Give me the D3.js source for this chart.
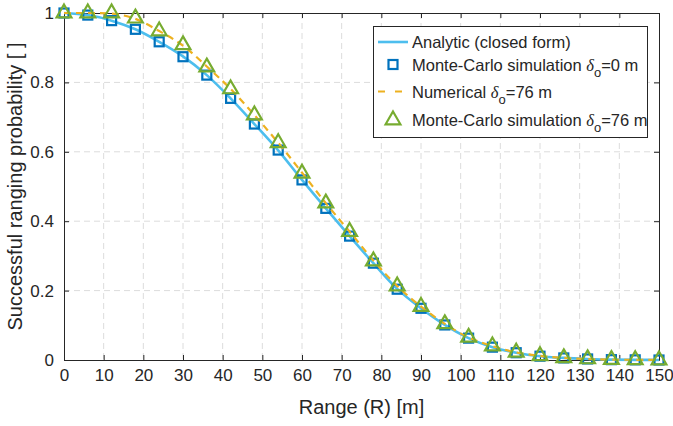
<!DOCTYPE html>
<html>
<head>
<meta charset="utf-8">
<script src="https://cdn.jsdelivr.net/npm/d3@7"></script>
<style>
  html, body { margin: 0; padding: 0; background: #fff; }
  svg { display: block; font-family: "Liberation Sans", Arial, Helvetica, sans-serif; }
</style>
</head>
<body>
<svg id="chart" width="673" height="426"></svg>
<script>
// Range samples (m) shared by all series
const range = [0, 6, 12, 18, 24, 30, 36, 42, 48, 54, 60, 66, 72, 78, 84, 90, 96, 102, 108, 114, 120, 126, 132, 138, 144, 150];

// Analytic closed form (delta_o = 0 m)
const analytic = [1.000, 0.994, 0.978, 0.953, 0.917, 0.875, 0.821, 0.754, 0.680, 0.604, 0.519, 0.437, 0.357, 0.279, 0.205, 0.149, 0.101, 0.063, 0.037, 0.021, 0.011, 0.006, 0.003, 0.001, 0.0005, 0.000];
// Monte-Carlo simulation, delta_o = 0 m
const mcZero = [1.000, 0.994, 0.978, 0.953, 0.917, 0.874, 0.821, 0.754, 0.680, 0.605, 0.519, 0.437, 0.357, 0.279, 0.204, 0.149, 0.101, 0.063, 0.037, 0.021, 0.011, 0.006, 0.003, 0.001, 0.0005, 0.000];
// Numerical, delta_o = 76 m
const numerical = [1.000, 1.000, 0.998, 0.983, 0.948, 0.906, 0.846, 0.781, 0.706, 0.626, 0.540, 0.452, 0.370, 0.287, 0.213, 0.154, 0.104, 0.065, 0.040, 0.022, 0.012, 0.006, 0.003, 0.001, 0.0005, 0.000];
// Monte-Carlo simulation, delta_o = 76 m
const mcSeventySix = [1.000, 1.000, 1.000, 0.985, 0.948, 0.908, 0.844, 0.781, 0.706, 0.626, 0.538, 0.452, 0.370, 0.285, 0.213, 0.154, 0.104, 0.065, 0.040, 0.022, 0.012, 0.006, 0.003, 0.001, 0.0005, 0.000];

const xTicks = [0, 10, 20, 30, 40, 50, 60, 70, 80, 90, 100, 110, 120, 130, 140, 150];
const yTicks = [0, 0.2, 0.4, 0.6, 0.8, 1];

const svg = d3.select("#chart");
const m = { left: 64, right: 659, top: 13, bottom: 360 };

const x = d3.scaleLinear().domain([0, 150]).range([m.left, m.right]);
const y = d3.scaleLinear().domain([0, 1]).range([m.bottom, m.top]);

const C = {
  analytic: "#4DBEEE",
  square: "#0072BD",
  dashed: "#EDB120",
  tri: "#77AC30",
  axis: "#262626",
  grid: "#dcdcdc"
};

// Grid lines
const grid = svg.append("g");
grid.selectAll(".gx").data(xTicks.slice(1, -1)).join("line")
  .attr("x1", d => x(d)).attr("x2", d => x(d))
  .attr("y1", m.top).attr("y2", m.bottom)
  .attr("stroke", C.grid).attr("stroke-width", 1).attr("stroke-dasharray", "6,4");
grid.selectAll(".gy").data(yTicks.slice(1, -1)).join("line")
  .attr("x1", m.left).attr("x2", m.right)
  .attr("y1", d => y(d)).attr("y2", d => y(d))
  .attr("stroke", C.grid).attr("stroke-width", 1).attr("stroke-dasharray", "6,4");

// Axes (ticks pointing inward)
const xAxis = svg.append("g").attr("transform", `translate(0,${m.bottom})`)
  .call(d3.axisBottom(x).tickValues(xTicks).tickSizeInner(-5).tickSizeOuter(0).tickPadding(9).tickFormat(d3.format("d")));
const xTop = svg.append("g").attr("transform", `translate(0,${m.top})`)
  .call(d3.axisTop(x).tickValues(xTicks).tickSizeInner(-5).tickSizeOuter(0).tickFormat(""));
const yAxis = svg.append("g").attr("transform", `translate(${m.left},0)`)
  .call(d3.axisLeft(y).tickValues(yTicks).tickSizeInner(-5).tickSizeOuter(0).tickPadding(10).tickFormat(d => d === 0 || d === 1 ? d3.format("d")(d) : d3.format(".1f")(d)));
const yRight = svg.append("g").attr("transform", `translate(${m.right},0)`)
  .call(d3.axisRight(y).tickValues(yTicks).tickSizeInner(-5).tickSizeOuter(0).tickFormat(""));

[xAxis, xTop, yAxis, yRight].forEach(g => {
  g.select(".domain").attr("stroke", C.axis).attr("stroke-width", 1);
  g.selectAll(".tick line").attr("stroke", C.axis).attr("stroke-width", 1);
  g.selectAll(".tick text").attr("fill", C.axis).attr("font-size", 17);
});
xAxis.selectAll(".tick text").attr("dy", "0.72em");

// Axis titles
svg.append("text").attr("x", (m.left + m.right) / 2).attr("y", 414)
  .attr("text-anchor", "middle").attr("font-size", 20).attr("fill", C.axis)
  .text("Range (R) [m]");
svg.append("text")
  .attr("transform", `translate(22,${(m.top + m.bottom) / 2}) rotate(-90)`)
  .attr("text-anchor", "middle").attr("font-size", 20).attr("fill", C.axis)
  .text("Successful ranging probability [ ]");

const plot = svg.append("g");
const pts = arr => range.map((r, i) => [r, arr[i]]);
const line = d3.line().x(d => x(d[0])).y(d => y(d[1])).curve(d3.curveMonotoneX);

// Analytic curve
plot.append("path").datum(pts(analytic)).attr("d", line)
  .attr("fill", "none").attr("stroke", C.analytic).attr("stroke-width", 2.6);

// Monte-Carlo squares (delta_o = 0 m)
const sq = 9;
plot.selectAll(".sq").data(pts(mcZero)).join("rect")
  .attr("x", d => x(d[0]) - sq / 2).attr("y", d => y(d[1]) - sq / 2)
  .attr("width", sq).attr("height", sq)
  .attr("fill", "none").attr("stroke", C.square).attr("stroke-width", 2.2);

// Numerical dashed curve (delta_o = 76 m)
plot.append("path").datum(pts(numerical)).attr("d", line)
  .attr("fill", "none").attr("stroke", C.dashed).attr("stroke-width", 2.2)
  .attr("stroke-dasharray", "7,5");

// Monte-Carlo triangles (delta_o = 76 m)
const tri = d3.symbol().type(d3.symbolTriangle).size(95);
plot.selectAll(".tri").data(pts(mcSeventySix)).join("path")
  .attr("transform", d => `translate(${x(d[0])},${y(d[1])})`)
  .attr("d", tri)
  .attr("fill", "none").attr("stroke", C.tri).attr("stroke-width", 2.2);

// Legend
const lg = svg.append("g");
lg.append("rect").attr("x", 373.5).attr("y", 26.5).attr("width", 274).attr("height", 111)
  .attr("fill", "#fff").attr("stroke", C.axis).attr("stroke-width", 1);

const legendItems = [
  { kind: "line", label: "Analytic (closed form)", sub: null, cy: 42 },
  { kind: "square", label: "Monte-Carlo simulation ", sub: "=0 m", cy: 64.5 },
  { kind: "dash", label: "Numerical ", sub: "=76 m", cy: 91.5 },
  { kind: "tri", label: "Monte-Carlo simulation ", sub: "=76 m", cy: 120 }
];
const tx = 412, sx0 = 378, sx1 = 408, sxc = 393;
legendItems.forEach(it => {
  if (it.kind === "line") {
    lg.append("line").attr("x1", sx0).attr("x2", sx1).attr("y1", it.cy).attr("y2", it.cy)
      .attr("stroke", C.analytic).attr("stroke-width", 2.6);
  } else if (it.kind === "dash") {
    lg.append("line").attr("x1", sx0).attr("x2", sx1).attr("y1", it.cy).attr("y2", it.cy)
      .attr("stroke", C.dashed).attr("stroke-width", 2.2).attr("stroke-dasharray", "7,10");
  } else if (it.kind === "square") {
    lg.append("rect").attr("x", sxc - sq / 2).attr("y", it.cy - sq / 2).attr("width", sq).attr("height", sq)
      .attr("fill", "none").attr("stroke", C.square).attr("stroke-width", 2.2);
  } else {
    lg.append("path").attr("transform", `translate(${sxc},${it.cy})`).attr("d", tri)
      .attr("fill", "none").attr("stroke", C.tri).attr("stroke-width", 2.2);
  }
  const t = lg.append("text").attr("x", tx).attr("y", it.cy + 6)
    .attr("font-size", 16.5).attr("fill", C.axis);
  t.append("tspan").text(it.label);
  if (it.sub) {
    t.append("tspan").attr("font-family", "'Liberation Serif', 'DejaVu Serif', serif")
      .attr("font-style", "italic").text("δ");
    t.append("tspan").attr("font-size", 13).attr("dy", 6).text("o");
    t.append("tspan").attr("dy", -6).text(it.sub);
  }
});
</script>
</body>
</html>
